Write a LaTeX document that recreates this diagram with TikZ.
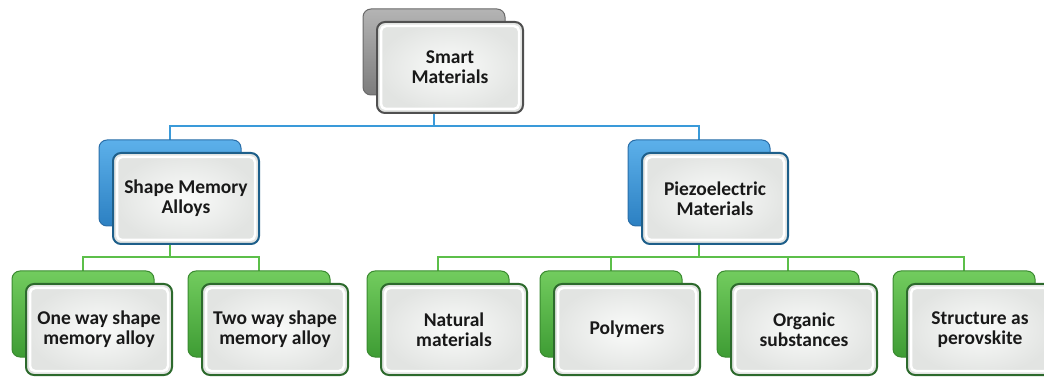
\documentclass[tikz,border=0pt]{standalone}
\usepackage{fontspec}
\setmainfont{Carlito}
\usetikzlibrary{backgrounds}
\definecolor{gbackT}{HTML}{B4B4B4}
\definecolor{gbackB}{HTML}{7C7C7C}
\definecolor{gbackD}{HTML}{6A6A6A}
\definecolor{bbackT}{HTML}{5CB0EA}
\definecolor{bbackB}{HTML}{2C80C2}
\definecolor{bbackD}{HTML}{2A6EA8}
\definecolor{kbackT}{HTML}{72CC5E}
\definecolor{kbackB}{HTML}{3E9C34}
\definecolor{kbackD}{HTML}{3A8A30}
\definecolor{gfrontD}{HTML}{505050}
\definecolor{bfrontD}{HTML}{1E5F8A}
\definecolor{kfrontD}{HTML}{2D6A2D}
\definecolor{blueline}{HTML}{3A9AD9}
\definecolor{greenline}{HTML}{5CBF4A}
\definecolor{frontin}{HTML}{FAFBFA}
\definecolor{frontout}{HTML}{E2E4E2}
\tikzset{
  back/.style={anchor=north west, rounded corners=8pt, minimum width=142pt, minimum height=86pt, inner sep=0pt, outer sep=0pt, line width=1pt},
  backgray/.style={back, draw=gbackD, top color=gbackT, bottom color=gbackB},
  backblue/.style={back, draw=bbackD, top color=bbackT, bottom color=bbackB},
  backgreen/.style={back, draw=kbackD, top color=kbackT, bottom color=kbackB},
  front/.style={anchor=north west, rounded corners=8pt, minimum width=146pt, minimum height=91pt, inner sep=0pt, outer sep=0pt, line width=2pt, inner color=frontin, outer color=frontout, align=center, font=\fontsize{19.5}{20}\selectfont\bfseries, text=black!90,
    path picture={\draw[white, line width=2.5pt, rounded corners=5pt] ([shift={(4pt,-4pt)}]path picture bounding box.north west) rectangle ([shift={(-4pt,4pt)}]path picture bounding box.south east);}},
  frontgray/.style={front, draw=gfrontD},
  frontblue/.style={front, draw=bfrontD},
  frontgreen/.style={front, draw=kfrontD},
  bline/.style={draw=blueline, line width=2.2pt},
  gline/.style={draw=greenline, line width=2.2pt},
}
\begin{document}
\begin{tikzpicture}[x=1pt,y=-1pt]
\useasboundingbox (0,0) rectangle (1044,379);
\clip (0,0) rectangle (1044,379);
% top
\node[backgray] (tb) at (363,9) {};
\node[frontgray] (tf) at (377,22) {Smart\\Materials};
% second level
\node[backblue] (lb) at (99,140) {};
\node[frontblue] (lf) at (113,153) {Shape Memory\\Alloys};
\node[backblue] (rb) at (628,140) {};
\node[frontblue] (rf) at (642,153) {Piezoelectric\\Materials};
% bottom level
\node[backgreen] (b1) at (12,271) {};
\node[frontgreen] (f1) at (26,284) {One way shape\\memory alloy};
\node[backgreen] (b2) at (188,271) {};
\node[frontgreen] (f2) at (202,284) {Two way shape\\memory alloy};
\node[backgreen] (b3) at (367,271) {};
\node[frontgreen] (f3) at (381,284) {Natural\\materials};
\node[backgreen] (b4) at (540,271) {};
\node[frontgreen] (f4) at (554,284) {Polymers};
\node[backgreen] (b5) at (717,271) {};
\node[frontgreen] (f5) at (731,284) {Organic\\substances};
\node[backgreen] (b6) at (893,271) {};
\node[frontgreen] (f6) at (907,284) {Structure as\\perovskite};
% buses
\coordinate (bus0) at (434,126);
\coordinate (bus1) at (170,257);
\coordinate (bus2) at (699,257);
\begin{scope}[on background layer]
\draw[bline] (tb.center) -- (bus0) -| (lb.center);
\draw[bline] (bus0) -| (rb.center);
\draw[gline] (lb.center) -- (bus1) -| (b1.center);
\draw[gline] (bus1) -| (b2.center);
\draw[gline] (rb.center) -- (bus2) -| (b3.center);
\draw[gline] (bus2) -| (b6.center);
\draw[gline] (bus2) -| (b4.center);
\draw[gline] (bus2) -| (b5.center);
\end{scope}
\end{tikzpicture}
\end{document}
